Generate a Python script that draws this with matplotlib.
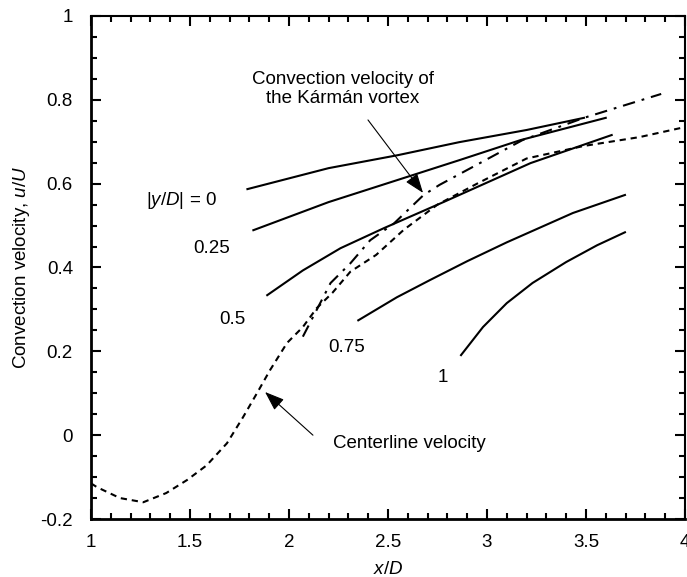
import matplotlib
matplotlib.use("Agg")
import matplotlib.pyplot as plt
from matplotlib.ticker import MultipleLocator

plt.rcParams['font.family'] = ['Liberation Sans', 'DejaVu Sans']
plt.rcParams['mathtext.fontset'] = 'custom'
plt.rcParams['mathtext.it'] = 'Liberation Sans:italic'
plt.rcParams['mathtext.rm'] = 'Liberation Sans'
plt.rcParams['axes.unicode_minus'] = False
plt.rcParams['lines.scale_dashes'] = False

# convection velocity for each |y/D|
x_0 = [1.79, 2.2, 2.55, 2.86, 3.2, 3.49]
u_0 = [0.587, 0.637, 0.668, 0.699, 0.728, 0.757]
x_25 = [1.82, 2.2, 2.55, 2.86, 3.17, 3.6]
u_25 = [0.489, 0.556, 0.609, 0.656, 0.704, 0.757]
x_50 = [1.89, 2.07, 2.26, 2.48, 2.78, 3.22, 3.63]
u_50 = [0.334, 0.393, 0.446, 0.494, 0.556, 0.649, 0.716]
x_75 = [2.35, 2.545, 2.712, 2.9, 3.10, 3.434, 3.697]
u_75 = [0.274, 0.329, 0.37, 0.415, 0.46, 0.53, 0.573]
x_100 = [2.869, 2.98, 3.10, 3.23, 3.40, 3.556, 3.697]
u_100 = [0.191, 0.258, 0.315, 0.363, 0.413, 0.453, 0.484]

# Karman vortex convection velocity
x_kv = [2.07, 2.21, 2.31, 2.41, 2.53, 2.68, 2.76, 3.18, 3.49, 3.88]
u_kv = [0.235, 0.363, 0.41, 0.465, 0.505, 0.573, 0.597, 0.704, 0.757, 0.814]

# centerline velocity
x_cl = [1.0, 1.03, 1.146, 1.264, 1.38, 1.485, 1.584, 1.687, 1.768, 1.838, 1.904,
        1.99, 2.07, 2.14, 2.22, 2.31, 2.44, 2.58, 2.75, 2.95, 3.2, 3.49, 3.77, 4.0]
u_cl = [-0.115, -0.124, -0.15, -0.16, -0.138, -0.107, -0.072, -0.019, 0.043, 0.1,
        0.155, 0.22, 0.258, 0.303, 0.34, 0.39, 0.43, 0.49, 0.55, 0.60, 0.66, 0.69,
        0.711, 0.735]

labels = [r'|$y/D$| = 0', '0.25', '0.5', '0.75', '1']
label_x = [1.455, 1.611, 1.712, 2.293, 2.778]
label_y = [0.561, 0.446, 0.277, 0.21, 0.138]

fs = 13.5

fig = plt.figure(figsize=(6.87, 5.77), dpi=100)
ax = fig.add_axes([0.1325, 0.1005, 0.8645, 0.8718])

for xs, us in [(x_0, u_0), (x_25, u_25), (x_50, u_50), (x_75, u_75), (x_100, u_100)]:
    ax.plot(xs, us, color='black', lw=1.5)
ax.plot(x_kv, u_kv, color='black', lw=1.5, dashes=(9, 5, 2, 5))
ax.plot(x_cl, u_cl, color='black', lw=1.5, dashes=(4.5, 3.5))

for t, lx, ly in zip(labels, label_x, label_y):
    ax.text(lx, ly, t, fontsize=fs, ha='center', va='center')

arr = dict(arrowstyle='-|>,head_length=0.6,head_width=0.22', color='black',
           lw=0.8, shrinkA=0, shrinkB=0, mutation_scale=20)
ax.annotate('', xy=(2.677, 0.578), xytext=(2.399, 0.752), arrowprops=arr)
ax.text(2.273, 0.826, 'Convection velocity of\nthe Kármán vortex', fontsize=fs,
        ha='center', va='center', linespacing=1.15)
ax.annotate('', xy=(1.879, 0.103), xytext=(2.121, 0.0), arrowprops=arr)
ax.text(2.222, -0.019, 'Centerline velocity', fontsize=fs, ha='left', va='center')

ax.set_xlim(1, 4)
ax.set_ylim(-0.2, 1)
ax.xaxis.set_minor_locator(MultipleLocator(0.1))
ax.yaxis.set_minor_locator(MultipleLocator(0.05))
ax.set_xticks([1, 1.5, 2, 2.5, 3, 3.5, 4])
ax.set_xticklabels(['1', '1.5', '2', '2.5', '3', '3.5', '4'])
ax.set_yticks([-0.2, 0, 0.2, 0.4, 0.6, 0.8, 1])
ax.set_yticklabels(['-0.2', '0', '0.2', '0.4', '0.6', '0.8', '1'])
ax.tick_params(which='both', direction='in', top=True, right=True, labelsize=fs, width=1.5)
ax.tick_params(which='major', length=7.5)
ax.tick_params(which='minor', length=4)
ax.tick_params(axis='x', pad=11)
ax.tick_params(axis='y', pad=13)
for s in ax.spines.values():
    s.set_linewidth(1.5)
ax.spines['left'].set_linewidth(2)
ax.spines['bottom'].set_linewidth(2)

ax.set_xlabel(r'$x/D$', fontsize=fs, labelpad=7)
ax.set_ylabel(r'Convection velocity, $u/U$', fontsize=fs, labelpad=6)

fig.savefig('out.png', dpi=100)
